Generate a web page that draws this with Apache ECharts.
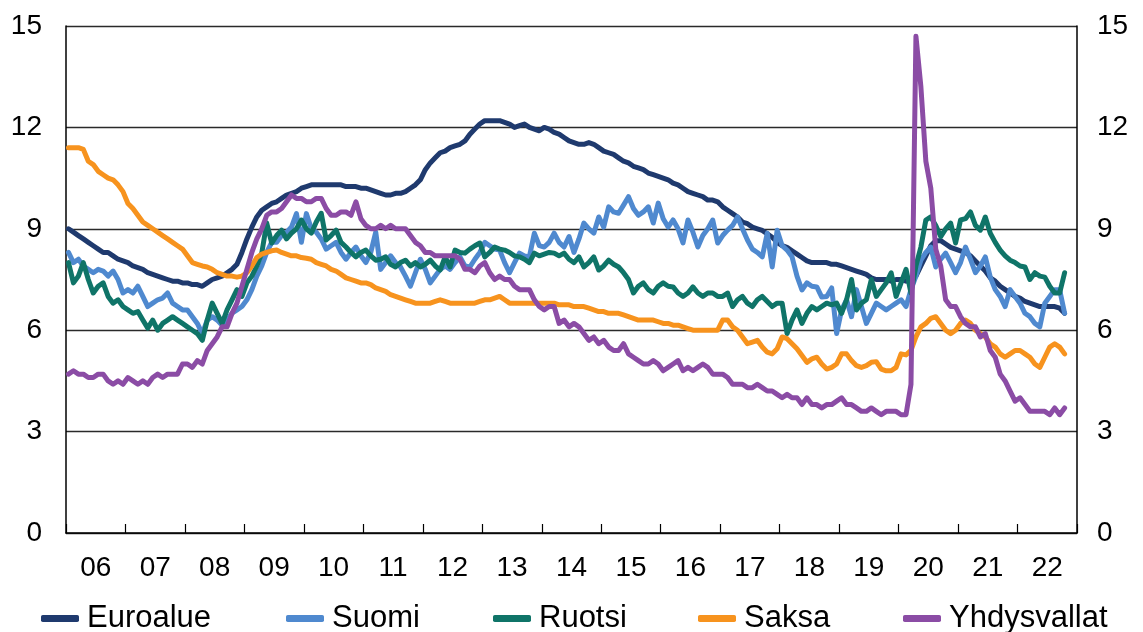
<!DOCTYPE html>
<html><head><meta charset="utf-8">
<script src="https://cdn.jsdelivr.net/npm/echarts@6/dist/echarts.min.js"></script>
<style>html,body{margin:0;padding:0;background:#fff}#c{width:1143px;height:632px}</style>
</head><body><div id="c"></div>
<script>
// Year tick labels (2006-2022)
const yearLabels = ['06','07','08','09','10','11','12','13','14','15','16','17','18','19','20','21','22'];
const yTicks = [0, 3, 6, 9, 12, 15];
const seriesNames = ['Euroalue','Suomi','Ruotsi','Saksa','Yhdysvallat'];

// Monthly unemployment rates, Jan 2006 - Oct 2022
const euroalue = [
9.0,8.9,8.8,8.7,8.6,8.5,8.4,8.3,8.3,8.2,8.1,8.05,
8.0,7.9,7.85,7.8,7.7,7.65,7.6,7.55,7.5,7.45,7.45,7.4,
7.4,7.35,7.35,7.3,7.4,7.5,7.55,7.6,7.7,7.8,7.95,8.3,
8.7,9.05,9.35,9.55,9.65,9.75,9.8,9.9,10.0,10.05,10.1,10.2,
10.25,10.3,10.3,10.3,10.3,10.3,10.3,10.3,10.25,10.25,10.25,10.2,
10.2,10.15,10.1,10.05,10.0,10.0,10.05,10.05,10.1,10.2,10.3,10.45,
10.75,10.95,11.1,11.25,11.3,11.4,11.45,11.5,11.6,11.8,11.95,12.1,
12.2,12.2,12.2,12.2,12.15,12.1,12.0,12.05,12.1,12.0,11.95,11.9,
12.0,11.95,11.85,11.8,11.7,11.6,11.55,11.5,11.5,11.55,11.5,11.4,
11.3,11.25,11.2,11.1,11.0,10.95,10.85,10.8,10.75,10.65,10.6,10.55,
10.5,10.45,10.35,10.3,10.2,10.1,10.05,10.0,9.95,9.85,9.85,9.8,
9.65,9.55,9.45,9.35,9.2,9.15,9.05,9.0,8.95,8.85,8.75,8.6,
8.5,8.45,8.35,8.25,8.15,8.05,8.0,8.0,8.0,8.0,7.95,7.95,
7.9,7.85,7.8,7.75,7.7,7.65,7.55,7.5,7.5,7.5,7.45,7.5,
7.5,7.45,7.5,7.6,7.9,8.2,8.5,8.65,8.65,8.55,8.45,8.4,
8.35,8.3,8.2,8.05,7.9,7.75,7.55,7.45,7.3,7.2,7.1,7.0,
6.95,6.85,6.8,6.75,6.7,6.7,6.7,6.7,6.65,6.5
];
const suomi = [
8.3,8.0,8.1,7.9,7.8,7.7,7.8,7.75,7.6,7.75,7.5,7.1,
7.2,7.1,7.3,7.0,6.7,6.8,6.9,6.95,7.1,6.8,6.7,6.6,
6.6,6.4,6.2,5.9,6.3,6.4,6.3,6.15,6.3,6.5,6.6,6.7,
6.9,7.2,7.6,7.9,8.3,8.6,8.6,8.8,8.9,9.05,9.45,8.6,
9.45,9.0,8.9,8.7,8.4,8.5,8.6,8.3,8.1,8.3,8.46,8.2,
8.0,8.3,8.9,7.8,8.0,8.2,8.0,7.87,7.6,7.3,7.7,8.1,
7.8,7.4,7.6,7.8,7.9,7.8,8.0,8.17,7.9,7.87,8.1,8.3,
8.6,8.5,8.4,8.37,8.0,7.7,8.0,8.28,8.2,8.17,8.87,8.5,
8.46,8.6,8.87,8.6,8.46,8.77,8.3,8.7,9.17,9.0,8.87,9.35,
9.05,9.65,9.5,9.46,9.7,9.95,9.6,9.4,9.5,9.65,9.17,9.76,
9.3,9.05,9.26,9.0,8.58,9.26,8.9,8.46,8.8,9.0,9.26,8.58,
8.8,8.96,9.1,9.35,9.0,8.67,8.4,8.3,8.17,8.87,7.87,8.96,
8.5,8.37,8.17,7.6,7.19,7.4,7.3,7.28,6.98,7.0,7.25,5.9,
6.6,6.9,6.4,7.2,6.7,6.2,6.5,6.8,6.7,6.6,6.7,6.8,
6.9,6.7,7.2,7.6,8.07,8.3,8.46,7.87,8.1,8.28,8.0,7.7,
8.0,8.46,8.1,7.7,7.9,8.17,7.57,7.2,7.0,6.7,7.2,7.0,
6.8,6.5,6.4,6.2,6.1,6.8,7.0,7.2,7.2,6.5
];
const ruotsi = [
8.0,7.4,7.6,8.0,7.5,7.1,7.3,7.4,7.0,6.8,6.9,6.7,
6.6,6.5,6.55,6.3,6.06,6.3,6.0,6.2,6.3,6.4,6.3,6.2,
6.1,6.0,5.9,5.7,6.3,6.8,6.5,6.2,6.6,6.9,7.2,7.0,
7.4,7.6,7.9,8.28,9.17,8.58,8.8,8.96,8.7,8.87,9.0,9.26,
9.0,8.87,9.2,9.46,8.67,8.8,8.96,8.6,8.46,8.3,8.17,8.3,
8.37,8.2,8.07,8.1,8.17,7.95,7.87,8.0,8.07,7.9,8.0,7.87,
7.95,8.07,7.9,7.78,8.17,7.87,8.37,8.3,8.28,8.4,8.5,8.58,
8.17,8.3,8.46,8.4,8.37,8.3,8.2,8.17,8.1,8.0,8.28,8.2,
8.25,8.3,8.28,8.2,8.28,8.1,8.0,8.17,7.87,8.0,8.17,7.78,
7.9,8.07,7.95,7.87,7.7,7.5,7.1,7.3,7.4,7.2,7.1,7.3,
7.4,7.3,7.28,7.1,7.0,7.1,7.28,7.1,7.0,7.1,7.1,7.0,
7.0,7.1,6.7,6.9,7.0,6.8,6.7,6.9,7.0,6.85,6.7,6.8,
6.8,5.9,6.3,6.6,6.2,6.5,6.7,6.6,6.7,6.8,6.75,6.8,
6.5,6.9,7.5,6.6,6.8,6.9,7.5,7.0,7.2,7.4,7.7,7.0,
7.4,7.8,7.1,7.9,8.46,9.26,9.35,9.1,8.77,9.0,9.17,8.58,
9.26,9.3,9.5,9.1,8.96,9.35,8.87,8.6,8.37,8.2,8.07,8.0,
7.9,7.87,7.5,7.7,7.6,7.57,7.3,7.1,7.1,7.7
];
const saksa = [
11.4,11.4,11.4,11.35,11.0,10.9,10.7,10.6,10.5,10.45,10.3,10.1,
9.75,9.6,9.4,9.2,9.1,9.0,8.9,8.8,8.7,8.6,8.5,8.4,
8.2,8.0,7.95,7.9,7.87,7.8,7.7,7.65,7.6,7.6,7.57,7.6,
7.7,7.9,8.15,8.25,8.3,8.35,8.37,8.3,8.25,8.2,8.2,8.15,
8.13,8.1,8.0,7.95,7.9,7.8,7.75,7.65,7.55,7.5,7.45,7.4,
7.4,7.35,7.25,7.2,7.15,7.05,7.0,6.95,6.9,6.85,6.8,6.8,
6.8,6.8,6.85,6.9,6.85,6.8,6.8,6.8,6.8,6.8,6.8,6.85,
6.9,6.9,6.95,7.0,6.9,6.8,6.8,6.8,6.8,6.8,6.8,6.8,
6.8,6.8,6.8,6.75,6.75,6.75,6.7,6.7,6.7,6.65,6.6,6.55,
6.55,6.5,6.5,6.5,6.45,6.4,6.35,6.3,6.3,6.3,6.3,6.25,
6.2,6.2,6.15,6.15,6.1,6.05,6.0,6.0,6.0,6.0,6.0,6.0,
6.3,6.3,6.1,6.0,5.8,5.6,5.65,5.7,5.5,5.35,5.3,5.45,
5.8,5.75,5.6,5.45,5.25,5.05,5.15,5.2,5.0,4.85,4.9,5.0,
5.3,5.3,5.1,4.95,4.9,4.95,5.05,5.07,4.85,4.8,4.8,4.9,
5.3,5.27,5.4,5.8,6.1,6.2,6.35,6.4,6.2,6.0,5.9,6.0,
6.2,6.3,6.2,6.0,5.9,5.8,5.6,5.5,5.3,5.2,5.3,5.4,
5.4,5.3,5.2,5.0,4.9,5.2,5.5,5.6,5.5,5.3
];
const yhdysvallat = [
4.7,4.8,4.7,4.7,4.6,4.6,4.7,4.7,4.5,4.4,4.5,4.4,
4.6,4.5,4.4,4.5,4.4,4.6,4.7,4.6,4.7,4.7,4.7,5.0,
5.0,4.9,5.1,5.0,5.4,5.6,5.8,6.1,6.1,6.5,6.8,7.3,
7.8,8.3,8.7,9.0,9.4,9.5,9.5,9.6,9.8,10.0,9.9,9.9,
9.8,9.8,9.9,9.9,9.6,9.4,9.4,9.5,9.5,9.4,9.8,9.3,
9.1,9.0,9.0,9.1,9.0,9.1,9.0,9.0,9.0,8.8,8.6,8.5,
8.3,8.3,8.2,8.2,8.2,8.2,8.2,8.1,7.8,7.8,7.7,7.9,
8.0,7.7,7.5,7.6,7.5,7.5,7.3,7.2,7.2,7.2,6.9,6.7,
6.6,6.7,6.7,6.2,6.3,6.1,6.2,6.1,5.9,5.7,5.8,5.6,
5.7,5.5,5.4,5.4,5.6,5.3,5.2,5.1,5.0,5.0,5.1,5.0,
4.8,4.9,5.0,5.1,4.8,4.9,4.8,4.9,5.0,4.9,4.7,4.7,
4.7,4.6,4.4,4.4,4.4,4.3,4.3,4.4,4.3,4.2,4.2,4.1,
4.0,4.1,4.0,4.0,3.8,4.0,3.8,3.8,3.7,3.8,3.8,3.9,
4.0,3.8,3.8,3.7,3.6,3.6,3.7,3.6,3.5,3.6,3.6,3.6,
3.5,3.5,4.4,14.7,13.2,11.0,10.2,8.4,7.9,6.9,6.7,6.7,
6.4,6.2,6.1,6.1,5.8,5.9,5.4,5.2,4.7,4.5,4.2,3.9,
4.0,3.8,3.6,3.6,3.6,3.6,3.5,3.7,3.5,3.7
];

const colors = ['#1f3a6e', '#4f89cf', '#0f7468', '#f7931e', '#8b4ca5'];
const legendLeft = [36, 281, 488, 693, 898];

// Monthly category keys spanning the year axis (Jan 2006 .. Dec 2022)
const months = [];
yearLabels.forEach(function (yl) {
  for (let m = 1; m <= 12; m++) months.push('20' + yl + '-' + (m < 10 ? '0' : '') + m);
});

const dataSets = [euroalue, suomi, ruotsi, saksa, yhdysvallat];
const FONT = 'Liberation Sans, Arial, sans-serif';

const chart = echarts.init(document.getElementById('c'), null, { renderer: 'canvas' });
chart.setOption({
  animation: false,
  backgroundColor: '#ffffff',
  color: colors,
  grid: { left: 66, right: 66, top: 26, bottom: 99, containLabel: false },
  legend: seriesNames.map(function (n, i) {
    return {
      data: [n], left: legendLeft[i], top: 598,
      icon: 'roundRect', itemWidth: 38, itemHeight: 7, itemGap: 0,
      textStyle: { fontSize: 31, color: '#000', fontFamily: FONT, padding: [0, 0, 0, 3] }
    };
  }),
  xAxis: [
    {
      type: 'category', data: yearLabels, boundaryGap: true, position: 'bottom',
      axisLine: { show: true, lineStyle: { color: '#000', width: 1.5 } },
      axisTick: { show: true, inside: true, length: 9, lineStyle: { color: '#000', width: 1.2 } },
      axisLabel: { fontSize: 28, color: '#000', fontFamily: FONT, margin: 21, interval: 0 },
      splitLine: { show: false }
    },
    {
      type: 'category', data: months, boundaryGap: true, show: false,
      position: 'bottom'
    }
  ],
  yAxis: [
    {
      type: 'value', min: 0, max: 15, interval: 3, position: 'left',
      axisLine: { show: true, lineStyle: { color: '#000', width: 1.5 } },
      axisTick: { show: false },
      axisLabel: { fontSize: 28, color: '#000', fontFamily: FONT, margin: 24 },
      splitLine: { show: true, lineStyle: { color: '#2a2a2a', width: 1.3 } }
    },
    {
      type: 'value', min: 0, max: 15, interval: 3, position: 'right',
      axisLine: { show: true, lineStyle: { color: '#000', width: 1.5 } },
      axisTick: { show: false },
      axisLabel: { fontSize: 28, color: '#000', fontFamily: FONT, margin: 20 },
      splitLine: { show: false }
    }
  ],
  series: seriesNames.map(function (n, i) {
    return {
      name: n, type: 'line', xAxisIndex: 1, yAxisIndex: 0,
      data: dataSets[i], showSymbol: false, symbol: 'none',
      lineStyle: { width: 5, color: colors[i], join: 'round', cap: 'round' },
      itemStyle: { color: colors[i] }
    };
  })
});
</script>
</body></html>
